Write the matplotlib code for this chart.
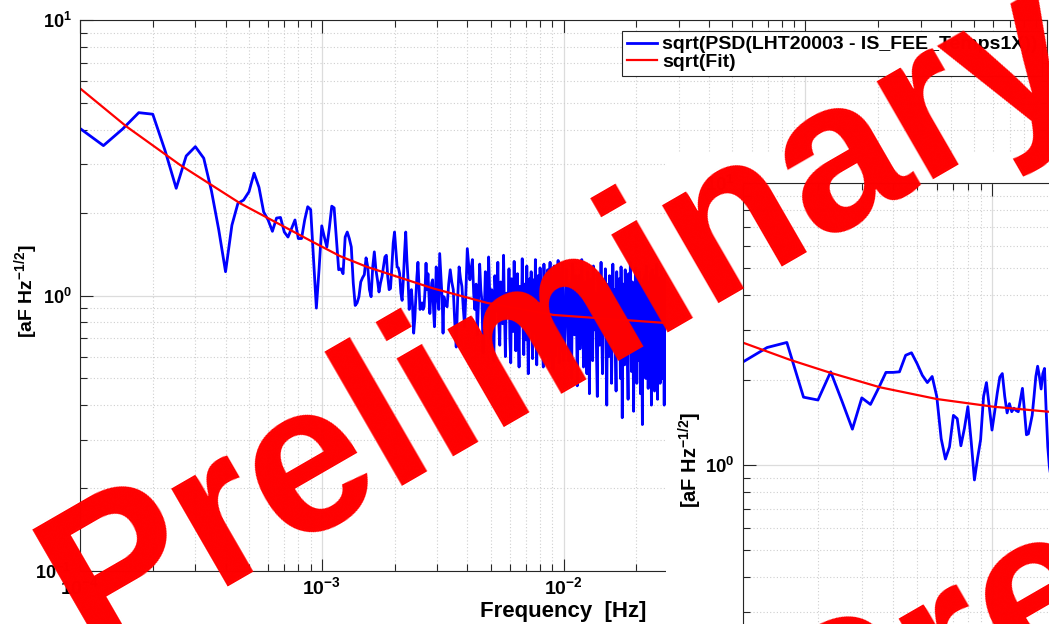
import numpy as np
import matplotlib
matplotlib.use('Agg')
import matplotlib.pyplot as plt
from matplotlib.ticker import FixedLocator, FuncFormatter, NullFormatter, LogLocator
from matplotlib.patches import Rectangle

# ---------------- data ----------------
# main spectrum: fine resolution part (df = 2.5e-5 Hz, starting at 1e-4 Hz)
main_psd_a = [4.04, 3.50, 4.02, 4.61, 4.55, 3.35, 2.45, 3.21, 3.47, 3.15,
              2.39, 1.73, 1.22, 1.80, 2.16, 2.22, 2.38, 2.78, 2.47, 2.01,
              1.88, 1.71, 1.91, 1.92, 1.70, 1.63, 1.75, 1.88, 1.61, 1.61,
              1.88, 2.10, 2.05, 1.36, 0.90, 1.25, 1.79, 1.63, 1.50, 1.76,
              2.11, 2.08, 1.60, 1.24, 1.25, 1.20, 1.63, 1.70, 1.61, 1.50,
              1.11, 0.92, 0.94, 0.99, 1.12, 1.16, 1.19, 1.37, 1.27, 1.05,
              0.99, 1.27, 1.44, 1.24, 1.14, 1.03, 1.11, 1.17, 1.27, 1.38,
              1.40, 1.17, 1.05, 1.06, 1.27, 1.55, 1.70, 1.46, 1.27, 1.26,
              1.20, 1.02, 0.96, 1.14, 1.42, 1.70, 1.35, 1.14, 0.89, 1.02,
              1.05, 0.91, 0.73, 0.82, 0.99, 1.17, 1.32, 1.08, 0.89, 0.91,
              0.94, 0.89, 0.91, 1.05, 1.31, 1.05, 1.20, 1.02, 0.86, 0.99,
              1.11, 1.14, 0.89, 0.77, 0.96, 1.27, 1.11, 0.96, 0.89, 1.42,
              1.24, 1.08, 0.96, 0.73]
# dense part 3.2e-3 .. 1e-2 Hz (step 5e-5)
main_psd_b = [0.99, 0.93, 0.91, 1.10, 1.24, 1.12, 1.05, 0.80, 0.65, 0.98,
              1.27, 1.15, 1.08, 0.90, 0.77, 1.05, 1.48, 1.30, 1.14, 1.25,
              1.35, 1.02, 0.89, 1.10, 0.72, 0.95, 1.30, 1.05, 0.95, 0.62,
              0.85, 1.22, 0.93, 0.84, 1.38, 1.02, 0.70, 1.05, 0.82, 0.58,
              1.18, 0.95, 0.88, 1.32, 0.80, 0.66, 1.12, 0.90, 0.79, 1.40,
              0.88, 0.60, 1.02, 0.92, 0.85, 1.25, 0.70, 0.57, 1.15, 0.96,
              0.74, 1.33, 0.85, 0.63, 0.98, 1.20, 0.75, 0.55, 1.08, 0.92,
              0.80, 1.36, 0.78, 0.61, 1.10, 0.88, 0.69, 1.28, 0.82, 0.52,
              1.00, 1.15, 0.86, 1.22, 0.72, 0.59, 1.14, 0.94, 0.73, 1.35,
              0.85, 0.56, 0.95, 1.18, 0.78, 0.64, 1.26, 0.90, 0.78, 1.05,
              0.66, 0.55, 1.30, 0.98, 0.70, 1.12, 0.84, 0.60, 1.24, 0.92,
              0.58, 1.08, 1.32, 0.76, 0.62, 1.15, 0.88, 0.54, 1.02, 1.28,
              0.72, 0.60, 1.20, 0.94, 0.66, 1.10, 1.34, 0.80, 0.57, 1.05,
              0.86, 1.22, 0.63, 0.98, 1.30, 0.74, 0.58]
# dense part 1.01e-2 .. ~2.7e-2 Hz (step 1e-4)
main_psd_c = [0.62, 1.05, 1.25, 0.80, 0.58, 1.10, 0.90, 0.50, 1.30, 0.95,
              0.72, 1.18, 0.98, 0.47, 0.85, 1.18, 0.64, 0.85, 1.35, 0.90,
              0.55, 1.05, 1.12, 0.68, 0.52, 1.22, 0.96, 0.44, 0.95, 1.15,
              0.70, 0.58, 1.28, 0.92, 0.75, 1.02, 0.60, 0.43, 1.20, 0.88,
              0.66, 0.90, 1.32, 0.72, 0.52, 1.08, 0.95, 0.78, 1.25, 0.62,
              0.40, 0.96, 1.10, 0.60, 1.18, 0.92, 0.84, 0.48, 0.70, 1.30,
              0.88, 0.70, 1.05, 0.62, 0.45, 1.22, 0.86, 0.62, 0.92, 1.15,
              0.72, 0.50, 1.27, 0.82, 0.36, 0.88, 1.10, 0.64, 0.56, 1.24,
              0.90, 0.74, 0.98, 0.58, 0.42, 1.20, 0.80, 0.65, 1.32, 0.86,
              0.53, 0.86, 1.12, 0.68, 0.38, 1.02, 0.92, 0.70, 1.26, 0.82,
              0.48, 0.94, 1.16, 0.72, 0.58, 1.22, 0.84, 0.44, 0.80, 1.08,
              0.62, 0.34, 0.96, 1.14, 0.62, 0.88, 1.18, 0.70, 0.50, 1.28,
              0.90, 0.72, 1.00, 0.46, 0.78, 1.12, 0.66, 0.52, 1.20, 0.84,
              0.40, 0.92, 1.24, 0.75, 0.58, 1.06, 0.82, 0.45, 1.18, 0.94,
              0.60, 0.88, 1.30, 0.70, 0.42, 1.00, 0.86, 0.55, 1.16, 0.78,
              0.48, 1.10, 0.92, 0.64, 1.25, 0.80, 0.50, 0.96, 1.14, 0.68,
              0.40, 1.04, 0.88, 0.58, 1.20, 0.76, 0.46, 0.98, 1.22, 0.70]

main_fit_f = [1.0e-4, 1.56e-4, 2.59e-4, 4.6e-4, 9.24e-4, 1.19e-3, 1.54e-3,
              2.9e-3, 4.83e-3, 9.1e-3, 2.64e-2, 5e-2]
main_fit_v = [5.65, 4.10, 2.98, 2.16, 1.56, 1.39, 1.27, 1.06, 0.94, 0.85,
              0.795, 0.78]

# second (overlaid) plot
inset_psd = [2.32, 2.61, 2.72, 1.74, 1.70, 2.14, 1.68, 1.34, 1.73, 1.64,
             1.87, 2.13, 2.13, 2.14, 2.45, 2.50, 2.29, 2.08, 1.96, 2.06,
             1.75, 1.24, 1.05, 1.16, 1.50, 1.46, 1.17, 1.35, 1.61, 1.21,
             0.885, 1.056, 1.23, 1.75, 1.96, 1.61, 1.33, 1.545, 1.80, 2.05,
             2.11, 1.75, 1.53, 1.65, 1.545, 1.59, 1.56, 1.545, 1.70, 1.87,
             1.56, 1.28, 1.29, 1.39, 1.50, 1.75, 2.06, 2.24, 2.06, 1.86,
             2.11, 2.20, 1.56, 1.16, 0.986, 0.90, 0.80, 1.10]
inset_fit_f = [1.0e-4, 1.545e-4, 2.236e-4, 3.55e-4, 6.0e-4, 1.01e-3, 1.69e-3, 3e-3]
inset_fit_v = [2.715, 2.36, 2.125, 1.886, 1.714, 1.61, 1.545, 1.49]

legend_labels = ['sqrt(PSD(LHT20003 - IS_FEE_Temps1X))', 'sqrt(Fit)']
xlabel_text = 'Frequency  [Hz]'
ylabel_text = r'[aF Hz$^{-1/2}$]'
watermark = 'Preliminary'

df = 2.5e-5
f_a = (4 + np.arange(len(main_psd_a))) * df
f_b = 3.2e-3 + 5e-5 * np.arange(len(main_psd_b))
f_c = 1.01e-2 + 1e-4 * np.arange(len(main_psd_c))
main_f = np.concatenate([f_a, f_b, f_c])
main_v = np.concatenate([main_psd_a, main_psd_b, main_psd_c])
inset_f = (4 + np.arange(len(inset_psd))) * df

# ---------------- style ----------------
plt.rcParams['font.family'] = ['Liberation Sans', 'DejaVu Sans']
plt.rcParams['font.weight'] = 'bold'
plt.rcParams['mathtext.fontset'] = 'custom'
plt.rcParams['mathtext.rm'] = 'Liberation Sans:bold'
plt.rcParams['mathtext.bf'] = 'Liberation Sans:bold'
plt.rcParams['mathtext.it'] = 'Liberation Sans:bold'
plt.rcParams['mathtext.default'] = 'bf'

W, H = 1049, 624
fig = plt.figure(figsize=(W / 100, H / 100), dpi=100)
fig.patch.set_facecolor('white')

SP = '#262626'
BLUE = '#0000ff'
RED = '#ff0000'


def px_axes(l, t, w, h):
    return [l / W, 1 - (t + h) / H, w / W, h / H]


def decade_fmt(v, pos):
    e = int(round(np.log10(v)))
    return r'$10^{%d}$' % e


def style_axes(ax, fs):
    ax.set_xscale('log')
    ax.set_yscale('log')
    ax.set_xlim(1e-4, 1)
    ax.set_ylim(0.1, 10)
    ax.xaxis.set_major_locator(FixedLocator([1e-4, 1e-3, 1e-2, 1e-1, 1e0]))
    ax.yaxis.set_major_locator(FixedLocator([1e-1, 1e0, 1e1]))
    ax.xaxis.set_minor_locator(LogLocator(base=10, subs=np.arange(2, 10), numticks=20))
    ax.yaxis.set_minor_locator(LogLocator(base=10, subs=np.arange(2, 10), numticks=20))
    ax.xaxis.set_major_formatter(FuncFormatter(decade_fmt))
    ax.yaxis.set_major_formatter(FuncFormatter(decade_fmt))
    ax.xaxis.set_minor_formatter(NullFormatter())
    ax.yaxis.set_minor_formatter(NullFormatter())
    ax.grid(True, which='major', color='#dcdcdc', lw=0.9, ls='-')
    ax.grid(True, which='minor', color='#cfcfcf', lw=0.8, ls=(0, (1, 2)))
    ax.set_axisbelow(True)
    ax.tick_params(which='both', direction='in', top=True, right=True,
                   colors=SP, width=0.8, labelcolor='black')
    ax.tick_params(which='major', length=9)
    ax.tick_params(which='minor', length=5)
    ax.tick_params(axis='y', which='major', pad=6, labelsize=fs)
    ax.tick_params(axis='x', which='major', pad=4, labelsize=fs + 1)
    for s in ax.spines.values():
        s.set_color(SP)
        s.set_linewidth(0.8)


# ---------------- main axes ----------------
ax = fig.add_axes(px_axes(80, 20, 967, 551))
style_axes(ax, 13)
l1, = ax.plot(main_f, main_v, color=BLUE, lw=2.0, label=legend_labels[0])
l2, = ax.plot(main_fit_f, main_fit_v, color=RED, lw=1.6, label=legend_labels[1])
ax.set_xlabel(xlabel_text, fontsize=16, fontweight='bold', labelpad=2)
ax.set_ylabel(ylabel_text, fontsize=14, fontweight='bold')
ax.yaxis.set_label_coords(-40 / 967, 0.508)
leg = ax.legend(handles=[l1, l2], loc='upper left',
                bbox_to_anchor=(622 / W, 1 - 31 / H), bbox_transform=fig.transFigure,
                fontsize=14, frameon=True, fancybox=False, framealpha=1,
                edgecolor=SP, handlelength=1.55, handletextpad=0.25,
                labelspacing=0.0, borderpad=0.25, borderaxespad=0)
leg.get_frame().set_linewidth(0.8)

# ---------------- overlaid second plot ----------------
fig.add_artist(Rectangle((666 / W, 0), 1 - 666 / W, 1 - 152 / H,
                         transform=fig.transFigure, facecolor='white',
                         edgecolor='none', zorder=1))
ax2 = fig.add_axes(px_axes(743, 183, 996, 564), zorder=2)
style_axes(ax2, 13.4)
ax2.plot(inset_f, inset_psd, color=BLUE, lw=2.0)
ax2.plot(inset_fit_f, inset_fit_v, color=RED, lw=1.6)
ax2.set_ylabel(ylabel_text, fontsize=14.4, fontweight='bold')
ax2.yaxis.set_label_coords(-39 / 996, 0.509)

# ---------------- watermarks ----------------
fig.text(92 / W, 1 - 656.5 / H, watermark, rotation=30, rotation_mode='anchor',
         ha='left', va='baseline', fontsize=153, fontweight='bold', color=RED,
         zorder=10)
fig.text(816 / W, 1 - 792 / H, watermark, rotation=30, rotation_mode='anchor',
         ha='left', va='baseline', fontsize=158, fontweight='bold', color=RED,
         zorder=9)

fig.savefig('out.png', dpi=100, facecolor='white')
